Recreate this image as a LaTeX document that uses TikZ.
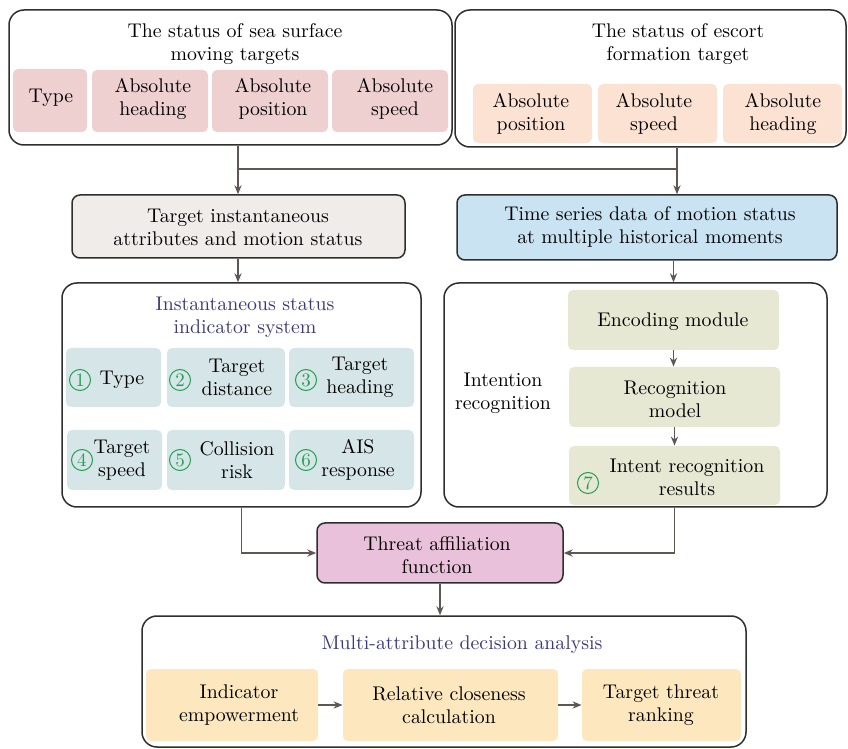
\documentclass[tikz,border=0pt]{standalone}
\usetikzlibrary{fit,arrows.meta}
\definecolor{cpink}{HTML}{EFD0D0}
\definecolor{cpeach}{HTML}{FCE2D2}
\definecolor{cgray}{HTML}{F0ECEA}
\definecolor{cblue}{HTML}{C9E3F3}
\definecolor{cteal}{HTML}{D6E6E8}
\definecolor{colive}{HTML}{E6E8D3}
\definecolor{cmag}{HTML}{E9C1DA}
\definecolor{cyel}{HTML}{FCE7BE}
\definecolor{carrow}{HTML}{5F5656}
\definecolor{cnavy}{HTML}{3A3A78}
\definecolor{cgreen}{HTML}{22A050}
\definecolor{cborder}{HTML}{2E2E2E}
\begin{document}
\begin{tikzpicture}[x=0.5pt,y=-0.5pt,
  font=\fontsize{9.9}{11.5}\selectfont,
  bigbox/.style={draw=cborder,line width=0.75pt,rounded corners=7.5pt,inner sep=0pt},
  midbox/.style={draw=cborder,line width=0.75pt,rounded corners=4pt,inner sep=0pt},
  fillbox/.style={fill=#1,rounded corners=2.5pt,inner sep=0pt},
  txt/.style={align=center,inner sep=0pt},
  ttl/.style={align=center,inner sep=0pt,text=cnavy},
  num/.style={circle,draw=cgreen,text=cgreen,line width=0.5pt,minimum size=10.5pt,inner sep=0pt,font=\fontsize{9.5}{9.5}\selectfont},
  arr/.style={draw=carrow,line width=0.65pt,-{Stealth[length=4.5pt,width=3.6pt]}},
  ln/.style={draw=carrow,line width=0.65pt}]
\useasboundingbox (0,0) rectangle (848,749);

% top left
\node[bigbox,fit={(9,10) (452,145)}] (tl) {};
\node[txt] (tlt) at (235,44.5) {The status of sea surface\\moving targets};
\node[fillbox=cpink,fit={(13,69) (87,132)}] (t1) {};
\node[fillbox=cpink,fit={(92,70) (208,132)}] (t2) {};
\node[fillbox=cpink,fit={(212,70) (328,132)}] (t3) {};
\node[fillbox=cpink,fit={(332,70) (448,132)}] (t4) {};
\node[txt] (t1t) at (51,98) {Type};
\node[txt] (t2t) at (153,98.5) {Absolute\\heading};
\node[txt] (t3t) at (273,98.5) {Absolute\\position};
\node[txt] (t4t) at (395,98.5) {Absolute\\speed};

% top right
\node[bigbox,fit={(455,10) (846,147)}] (tr) {};
\node[txt] (trt) at (678,44.5) {The status of escort\\formation target};
\node[fillbox=cpeach,fit={(473,84) (592,143)}] (r1) {};
\node[fillbox=cpeach,fit={(598,84) (717,143)}] (r2) {};
\node[fillbox=cpeach,fit={(723,84) (842,143)}] (r3) {};
\node[txt] (r1t) at (531,113.5) {Absolute\\position};
\node[txt] (r2t) at (654,113.5) {Absolute\\speed};
\node[txt] (r3t) at (783,113.5) {Absolute\\heading};

% middle
\node[midbox,fill=cgray,fit={(72,195) (405,258)}] (ml) {};
\node[txt] (mlt) at (238,227) {Target instantaneous\\attributes and motion status};
\node[midbox,fill=cblue,fit={(457,195) (837,260)}] (mr) {};
\node[txt] (mrt) at (650,227) {Time series data of motion status\\at multiple historical moments};

% left big box
\node[bigbox,fit={(62,283) (421,507)}] (lb) {};
\node[ttl] (lbt) at (245,317.5) {Instantaneous status\\indicator system};
\node[fillbox=cteal,fit={(66,348) (161,407)}] (i1) {};
\node[fillbox=cteal,fit={(167,348) (285,407)}] (i2) {};
\node[fillbox=cteal,fit={(289,348) (414,407)}] (i3) {};
\node[fillbox=cteal,fit={(67,430) (162,490)}] (i4) {};
\node[fillbox=cteal,fit={(167,430) (285,490)}] (i5) {};
\node[fillbox=cteal,fit={(289,430) (414,490)}] (i6) {};
\node[num] (n1) at (80,380) {1};
\node[txt] (i1t) at (122,380) {Type};
\node[num] (n2) at (180,380) {2};
\node[txt] (i2t) at (237,377.5) {Target\\distance};
\node[num] (n3) at (306,380) {3};
\node[txt] (i3t) at (360,377.5) {Target\\heading};
\node[num] (n4) at (82,460) {4};
\node[txt] (i4t) at (122,460) {Target\\speed};
\node[num] (n5) at (180,460) {5};
\node[txt] (i5t) at (237,460) {Collision\\risk};
\node[num] (n6) at (306,460) {6};
\node[txt] (i6t) at (358,460) {AIS\\response};

% right big box
\node[bigbox,fit={(444,283) (827,507)}] (rb) {};
\node[txt] (rbt) at (503,393) {Intention\\recognition};
\node[fillbox=colive,fit={(568,290) (779,350)}] (e1) {};
\node[fillbox=colive,fit={(569,367) (780,427)}] (e2) {};
\node[fillbox=colive,fit={(569,446) (780,505)}] (e3) {};
\node[txt] (e1t) at (673,322) {Encoding module};
\node[txt] (e2t) at (675,399) {Recognition\\model};
\node[num] (n7) at (588,483) {7};
\node[txt] (e3t) at (687,477) {Intent recognition\\results};

% threat
\node[midbox,fill=cmag,fit={(317,523) (563,583)}] (th) {};
\node[txt] (tht) at (437,555) {Threat affiliation\\function};

% bottom
\node[bigbox,fit={(142,616) (746,747)}] (bt) {};
\node[ttl] (btt) at (462,645) {Multi-attribute decision analysis};
\node[fillbox=cyel,fit={(146,669) (318,741)}] (b1) {};
\node[fillbox=cyel,fit={(343,669) (558,741)}] (b2) {};
\node[fillbox=cyel,fit={(582,669) (741,741)}] (b3) {};
\node[txt] (b1t) at (239,705) {Indicator\\empowerment};
\node[txt] (b2t) at (449,705) {Relative closeness\\calculation};
\node[txt] (b3t) at (661,705) {Target threat\\ranking};

% connectors
\coordinate (jl) at (238,169);
\coordinate (jr) at (677,169);
\draw[arr] (jl |- tl.south) -- (jl |- ml.north);
\draw[arr] (jr |- tr.south) -- (jr |- mr.north);
\draw[ln] (jl) -- (jr);
\draw[arr] (jl |- ml.south) -- (jl |- lb.north);
\draw[arr] (e1 |- mr.south) -- (e1 |- rb.north);
\draw[arr] (e1.south) -- (e1.south |- e2.north);
\draw[arr] (e2.south) -- (e2.south |- e3.north);
\draw[arr] (lb.south) |- (th.west);
\draw[arr] (e3.south |- rb.south) |- (th.east);
\draw[arr] (th.south) -- (th.south |- bt.north);
\draw[arr] (b1.east) -- (b2.west);
\draw[arr] (b2.east) -- (b3.west);
\end{tikzpicture}
\end{document}
